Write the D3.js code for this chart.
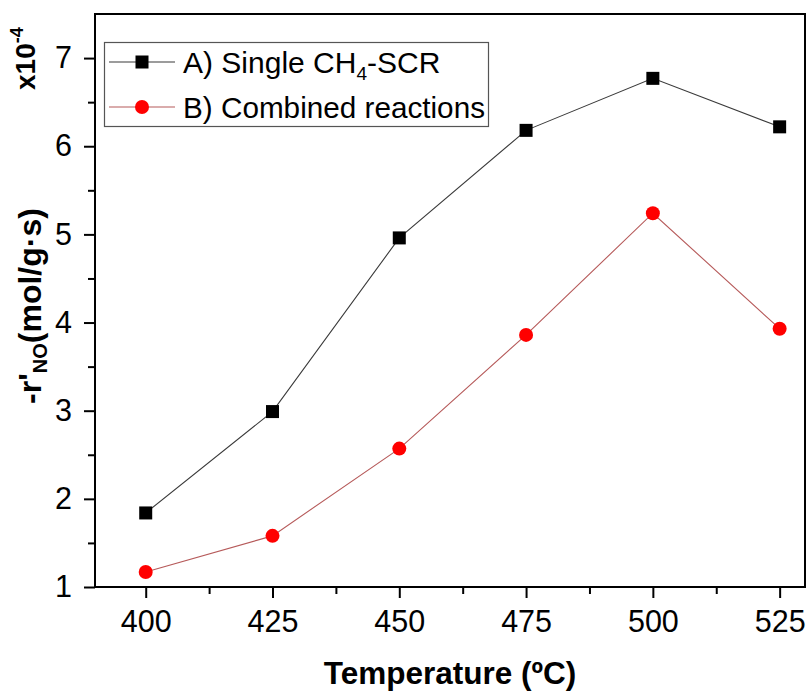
<!DOCTYPE html>
<html>
<head>
<meta charset="utf-8">
<script src="https://cdn.jsdelivr.net/npm/d3@7"></script>
<style>
  html, body { margin: 0; padding: 0; background: #fff; }
  svg { display: block; }
  text { font-family: "Liberation Sans", Arial, Helvetica, sans-serif; fill: #000; }
</style>
</head>
<body>
<svg id="chart" width="809" height="692"></svg>
<script>
// Reaction temperature (°C)
const temperatures = [400, 425, 450, 475, 500, 525];
// NO consumption rate, in units of 1e-4 mol/(g·s)
const singleSCR = [1.84, 2.99, 4.96, 6.18, 6.77, 6.22];
const combined = [1.17, 1.58, 2.57, 3.86, 5.24, 3.93];
const seriesNames = ["A) Single CH", "B) Combined reactions"];
const xTicks = [400, 425, 450, 475, 500, 525];
const yTicks = [1, 2, 3, 4, 5, 6, 7];

const svg = d3.select("#chart");
const plotLeft = 95, plotRight = 805, plotTop = 14, plotBottom = 587;

const x = d3.scaleLinear().domain([390, 530]).range([plotLeft, plotRight]);
const y = d3.scaleLinear().domain([1, 7.5]).range([plotBottom, plotTop]);

// minor ticks halfway between majors
const xMinor = d3.pairs(xTicks).map(([a, b]) => (a + b) / 2);
const yMinor = d3.pairs(yTicks).map(([a, b]) => (a + b) / 2);

function styleAxis(g) {
  g.select(".domain").remove();
  g.selectAll("line").attr("stroke", "#000").attr("stroke-width", 2);
  g.selectAll("text").attr("font-size", 30.5).attr("fill", "#000")
    .style("font-family", '"Liberation Sans", Arial, sans-serif');
}

// minor ticks
svg.append("g").attr("transform", `translate(0,${plotBottom})`)
  .call(d3.axisBottom(x).tickValues(xMinor).tickSize(7).tickFormat(""))
  .call(styleAxis);
svg.append("g").attr("transform", `translate(${plotLeft},0)`)
  .call(d3.axisLeft(y).tickValues(yMinor).tickSize(7).tickFormat(""))
  .call(styleAxis);

// major ticks and labels
svg.append("g").attr("transform", `translate(0,${plotBottom})`)
  .call(d3.axisBottom(x).tickValues(xTicks).tickSize(11).tickPadding(12).tickFormat(d3.format("d")))
  .call(styleAxis);
svg.append("g").attr("transform", `translate(${plotLeft},0)`)
  .call(d3.axisLeft(y).tickValues(yTicks).tickSize(11).tickPadding(12).tickFormat(d3.format("d")))
  .call(styleAxis);

// frame
svg.append("rect")
  .attr("x", plotLeft).attr("y", plotTop)
  .attr("width", plotRight - plotLeft).attr("height", plotBottom - plotTop)
  .attr("fill", "none").attr("stroke", "#000").attr("stroke-width", 2);

const line = d3.line().x((d, i) => x(temperatures[i])).y(d => y(d));

const series = [
  { values: singleSCR, line: "#3a3a3a", fill: "#000", shape: "square" },
  { values: combined, line: "#b65a5a", fill: "#ff0000", shape: "circle" }
];

function drawMarker(g, shape, fill, cx, cy) {
  if (shape === "square") {
    g.append("rect").attr("x", cx - 6.5).attr("y", cy - 6.5)
      .attr("width", 13).attr("height", 13).attr("fill", fill);
  } else {
    g.append("circle").attr("cx", cx).attr("cy", cy).attr("r", 7).attr("fill", fill);
  }
}

series.forEach(s => {
  svg.append("path").datum(s.values)
    .attr("d", line).attr("fill", "none")
    .attr("stroke", s.line).attr("stroke-width", 1.1);
  const g = svg.append("g");
  s.values.forEach((v, i) => drawMarker(g, s.shape, s.fill, x(temperatures[i]), y(v)));
});

// legend
const legend = svg.append("g");
legend.append("rect").attr("x", 104.5).attr("y", 42.5).attr("width", 384).attr("height", 84)
  .attr("fill", "#fff").attr("stroke", "#555").attr("stroke-width", 1.2);
const rowY = [62, 107];
series.forEach((s, i) => {
  legend.append("line").attr("x1", 109).attr("x2", 175).attr("y1", rowY[i]).attr("y2", rowY[i])
    .attr("stroke", s.line).attr("stroke-width", 1.1);
  drawMarker(legend, s.shape, s.fill, 142, rowY[i]);
});
const t1 = legend.append("text").attr("x", 183).attr("y", rowY[0] + 11).attr("font-size", 30);
t1.append("tspan").text(seriesNames[0]);
t1.append("tspan").attr("font-size", 19).attr("dy", 7).text("4");
t1.append("tspan").attr("dy", -7).text("-SCR");
legend.append("text").attr("x", 183).attr("y", rowY[1] + 11).attr("font-size", 30)
  .attr("textLength", 302).attr("lengthAdjust", "spacingAndGlyphs").text(seriesNames[1]);

// axis titles
svg.append("text")
  .attr("x", 450).attr("y", 684)
  .attr("text-anchor", "middle").attr("font-size", 31.5).attr("font-weight", "bold")
  .text("Temperature (ºC)");

const yl = svg.append("text")
  .attr("transform", "translate(41,306) rotate(-90)")
  .attr("text-anchor", "middle").attr("font-size", 32).attr("font-weight", "bold");
yl.append("tspan").text("-r'");
yl.append("tspan").attr("font-size", 20).attr("dy", 6).text("NO");
yl.append("tspan").attr("dy", -6).text("(mol/g·s)");

const sc = svg.append("text")
  .attr("transform", "translate(35,90) rotate(-90)")
  .attr("text-anchor", "start").attr("font-size", 28).attr("font-weight", "bold");
sc.append("tspan").text("x10");
sc.append("tspan").attr("font-size", 18).attr("dy", -12).text("-4");
</script>
</body>
</html>
